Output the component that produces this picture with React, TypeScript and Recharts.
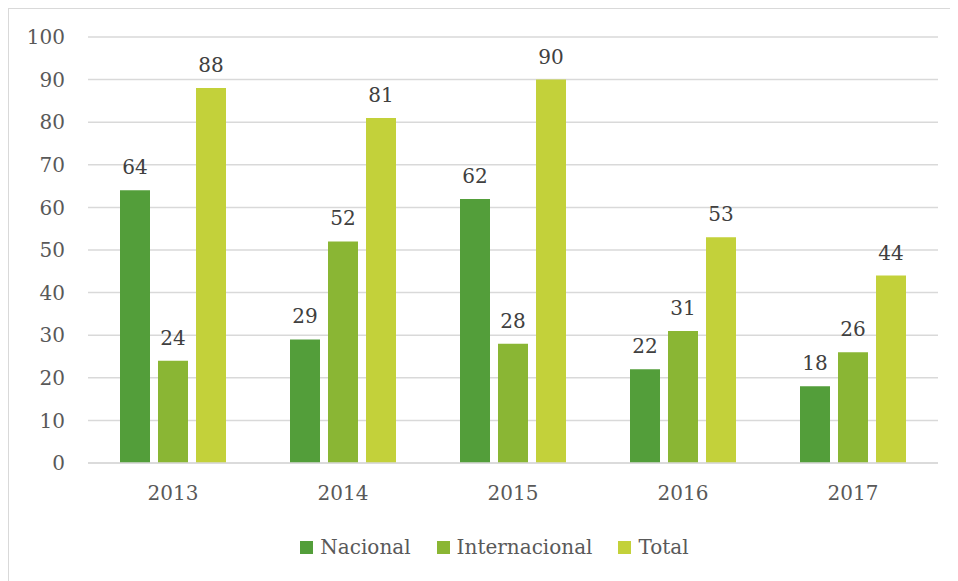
import React from 'react';
import { BarChart, Bar, XAxis, YAxis, CartesianGrid, LabelList, Legend } from 'recharts';

const years = ['2013', '2014', '2015', '2016', '2017'];
const nacional = [64, 29, 62, 22, 18];
const internacional = [24, 52, 28, 31, 26];
const total = [88, 81, 90, 53, 44];
const yTicks = [0, 10, 20, 30, 40, 50, 60, 70, 80, 90, 100];

const seriesInfo = [
  { key: 'Nacional', color: '#539E3A' },
  { key: 'Internacional', color: '#8AB634' },
  { key: 'Total', color: '#C3D13A' },
];

const data = years.map((y, i) => ({
  year: y,
  Nacional: nacional[i],
  Internacional: internacional[i],
  Total: total[i],
}));

const FONT = '"DejaVu Serif", serif';

const LegendContent = () => (
  <div style={{ display: 'flex', justifyContent: 'center', alignItems: 'center', fontFamily: FONT, fontSize: 20, color: '#595959', paddingLeft: 42 }}>
    {seriesInfo.map((s, i) => (
      <div key={s.key} style={{ display: 'flex', alignItems: 'center', marginLeft: i === 0 ? 0 : 26 }}>
        <span style={{ display: 'inline-block', width: 13, height: 13, background: s.color, marginRight: 7 }} />
        <span>{s.key}</span>
      </div>
    ))}
  </div>
);

export default function App() {
  return (
    <div style={{ width: 950, height: 573, borderTop: '1px solid #d9d9d9', borderLeft: '1px solid #d9d9d9', boxSizing: 'border-box', background: '#fff' }}>
      <BarChart
        width={949}
        height={572}
        data={data}
        margin={{ top: 28, right: 20, left: 0, bottom: 22 }}
        barCategoryGap="18.8%"
        barGap={8}
      >
        <CartesianGrid vertical={false} stroke="#d9d9d9" strokeWidth={1.5} />
        <XAxis
          dataKey="year"
          axisLine={{ stroke: '#d9d9d9', strokeWidth: 1.5 }}
          tickLine={false}
          tickSize={0}
          tickMargin={23}
          height={72}
          tick={{ fill: '#595959', fontSize: 20, fontFamily: FONT }}
        />
        <YAxis
          domain={[0, 100]}
          ticks={yTicks}
          axisLine={false}
          tickLine={false}
          tickSize={0}
          tickMargin={23}
          width={79}
          interval={0}
          tick={{ fill: '#595959', fontSize: 20, fontFamily: FONT }}
        />
        <Legend verticalAlign="bottom" content={<LegendContent />} />
        {seriesInfo.map((s) => (
          <Bar key={s.key} dataKey={s.key} fill={s.color} barSize={30} isAnimationActive={false}>
            <LabelList dataKey={s.key} position="top" offset={16} style={{ fill: '#404040', fontSize: 20, fontFamily: FONT }} />
          </Bar>
        ))}
      </BarChart>
    </div>
  );
}
